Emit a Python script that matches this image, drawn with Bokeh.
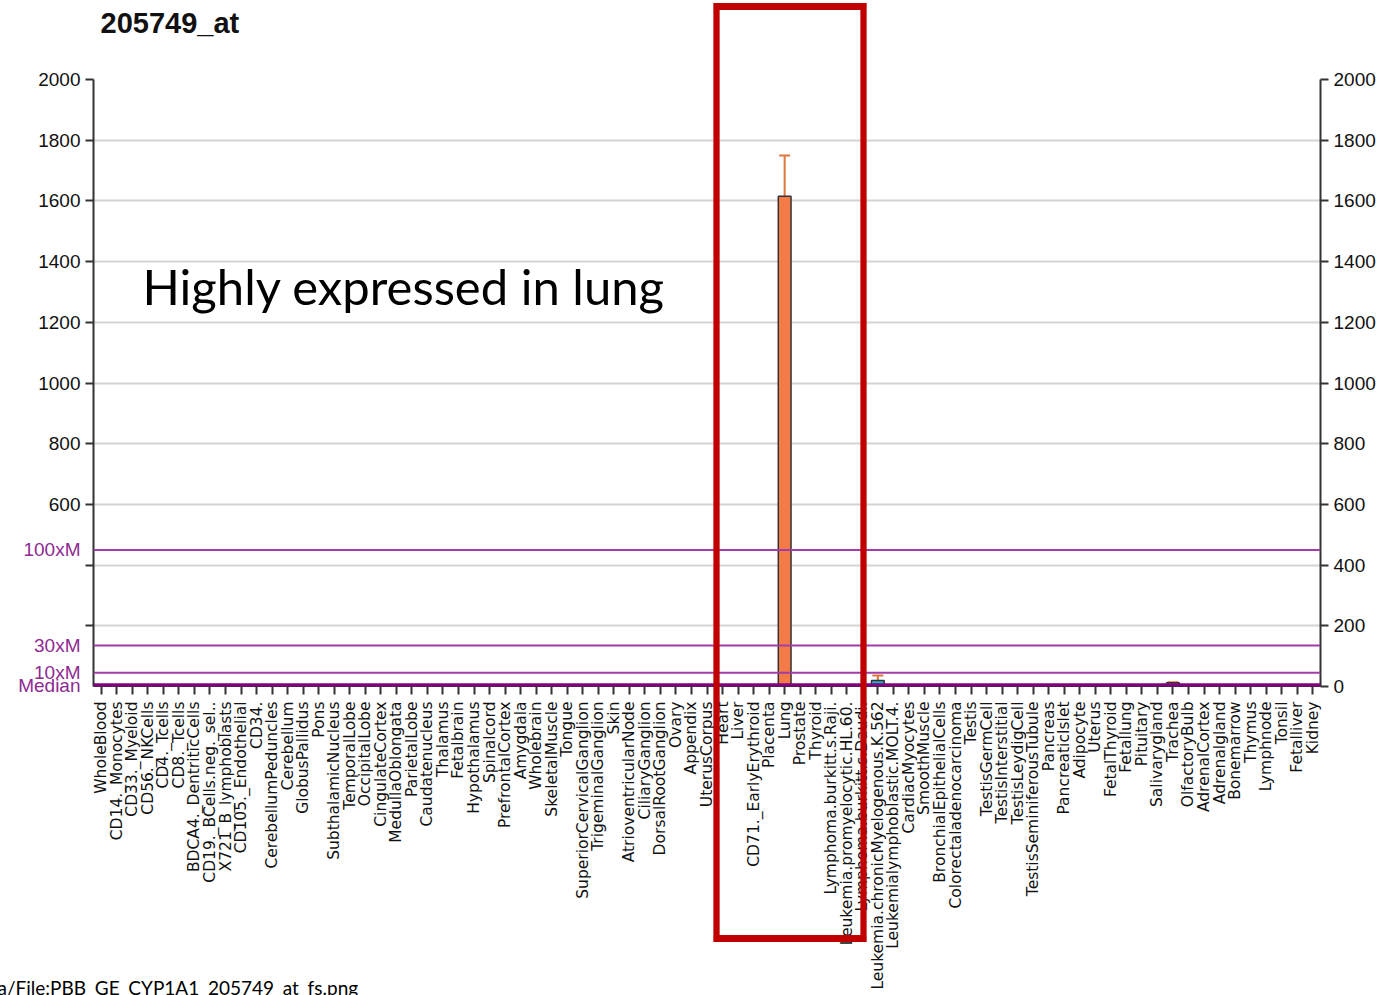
import math
from bokeh.plotting import figure
from bokeh.models import (ColumnDataSource, FactorRange, Range1d, LinearAxis, FixedTicker,
                          Span, Label, Whisker, TeeHead)
from bokeh.embed import file_html
from bokeh.resources import INLINE

# ---------------- data ----------------
tissues = [
    "WholeBlood", "CD14._Monocytes", "CD33._Myeloid", "CD56._NKCells", "CD4._Tcells",
    "CD8._Tcells", "BDCA4._DentriticCells", "CD19._BCells.neg._sel..", "X721_B_lymphoblasts",
    "CD105._Endothelial", "CD34.", "CerebellumPeduncles", "Cerebellum", "GlobusPallidus",
    "Pons", "SubthalamicNucleus", "TemporalLobe", "OccipitalLobe", "CingulateCortex",
    "MedullaOblongata", "ParietalLobe", "Caudatenucleus", "Thalamus", "Fetalbrain",
    "Hypothalamus", "Spinalcord", "PrefrontalCortex", "Amygdala", "Wholebrain",
    "SkeletalMuscle", "Tongue", "SuperiorCervicalGanglion", "TrigeminalGanglion", "Skin",
    "AtrioventricularNode", "CiliaryGanglion", "DorsalRootGanglion", "Ovary", "Appendix",
    "UterusCorpus", "Heart", "Liver", "CD71._EarlyErythroid", "Placenta", "Lung",
    "Prostate", "Thyroid", "Lymphoma.burkitt.s.Raji.", "Leukemia.promyelocytic.HL.60.",
    "Lymphoma.burkitt.s.Daudi.", "Leukemia.chronicMyelogenous.K.562",
    "Leukemialymphoblastic.MOLT.4.", "CardiacMyocytes", "SmoothMuscle",
    "BronchialEpithelialCells", "Colorectaladenocarcinoma", "Testis", "TestisGermCell",
    "TestisInterstitial", "TestisLeydigCell", "TestisSeminiferousTubule", "Pancreas",
    "PancreaticIslet", "Adipocyte", "Uterus", "FetalThyroid", "Fetallung", "Pituitary",
    "Salivarygland", "Trachea", "OlfactoryBulb", "AdrenalCortex", "Adrenalgland",
    "Bonemarrow", "Thymus", "Lymphnode", "Tonsil", "Fetalliver", "Kidney",
]

values = [
    4, 4, 4, 4, 4, 4, 4, 4, 5, 4,
    4, 4, 4, 4, 4, 4, 4, 4, 4, 4,
    4, 4, 4, 4, 4, 4, 4, 4, 4, 4,
    4, 4, 4, 4, 4, 4, 4, 4, 5, 4,
    4, 4, 4, 5, 1615, 4, 4, 4, 4, 4,
    20, 4, 4, 4, 5, 4, 4, 4, 4, 4,
    4, 4, 4, 4, 4, 4, 5, 4, 4, 12,
    4, 4, 4, 4, 4, 4, 4, 4, 4,
]

errors = [
    1, 1, 1, 1, 1, 1, 1, 1, 1, 1,
    1, 1, 1, 1, 1, 1, 1, 1, 1, 1,
    1, 1, 1, 1, 1, 1, 1, 1, 1, 1,
    1, 1, 1, 1, 1, 1, 1, 1, 1, 1,
    1, 1, 1, 1, 135, 1, 1, 1, 1, 1,
    16, 1, 1, 1, 1, 1, 1, 1, 1, 1,
    1, 1, 1, 1, 1, 1, 1, 1, 1, 2,
    1, 1, 1, 1, 1, 1, 1, 1, 1,
]

cell_lines = ["Leukemia.chronicMyelogenous.K.562"]

median_levels = [4.5, 45, 135, 450]
median_names = ["Median", "10xM", "30xM", "100xM"]

y_ticks = [0, 200, 400, 600, 800, 1000, 1200, 1400, 1600, 1800, 2000]

title_text = "205749_at"
note_text = "Highly expressed in lung"
source_text = "a/File:PBB_GE_CYP1A1_205749_at_fs.png"

# ---------------- build ----------------
W, H = 1383, 995
FRAME_L, FRAME_T, FRAME_W, FRAME_H = 93, 79, 1227, 607
PURPLE_TXT = "#8E2A92"
RED = "#C00000"

bar_colors = ["#1FB5C8" if t in cell_lines else "#F47A48" for t in tissues]
upper = [v + e for v, e in zip(values, errors)]

src = ColumnDataSource(dict(tissue=tissues, value=values, upper=upper, color=bar_colors))

p = figure(width=W, height=H,
           x_range=FactorRange(*tissues, range_padding=0),
           y_range=Range1d(0, 2000),
           output_backend="svg", toolbar_location=None,
           min_border_left=FRAME_L, min_border_right=W - FRAME_L - FRAME_W,
           min_border_top=FRAME_T, min_border_bottom=H - FRAME_T - FRAME_H)

p.outline_line_color = None
p.background_fill_color = "white"
p.border_fill_color = "white"
p.xgrid.grid_line_color = None
p.ygrid.grid_line_color = "#d4d4d4"
p.ygrid.grid_line_width = 2
p.ygrid.ticker = FixedTicker(ticks=y_ticks[1:])

p.vbar(x="tissue", top="value", bottom=0, width=0.82, fill_color="color",
       line_color="#333333", line_width=1.5, source=src)

wh = Whisker(base="tissue", upper="upper", lower="value", source=src,
             line_color="#E0783C", line_width=2,
             upper_head=TeeHead(size=11, line_color="#E0783C", line_width=2),
             lower_head=None)
p.add_layout(wh)

for lvl, name in zip(median_levels, median_names):
    is_med = name == "Median"
    p.add_layout(Span(location=lvl, dimension="width",
                      line_color="#800080" if is_med else "#A23CA8",
                      line_width=4 if is_med else 2))

# left numeric axis
ly = p.yaxis[0]
ly.ticker = FixedTicker(ticks=y_ticks[1:])
ly.major_label_overrides = {200: "", 400: ""}

ry = LinearAxis(ticker=FixedTicker(ticks=y_ticks))
p.add_layout(ry, "right")

for ax in [ly, ry]:
    ax.major_label_text_font = "Liberation Sans"
    ax.major_label_text_font_size = "19px"
    ax.major_label_text_color = "#111111"
    ax.axis_line_color = "#333333"
    ax.axis_line_width = 2
    ax.major_tick_line_color = "#333333"
    ax.major_tick_line_width = 2
    ax.major_tick_out = 8
    ax.major_tick_in = 0
    ax.minor_tick_line_color = None
    ax.minor_tick_out = 0
    ax.major_label_standoff = 5

# left purple axis for the median multiples (pulled back onto the numeric labels' column)
lm = LinearAxis(ticker=FixedTicker(ticks=median_levels),
                major_label_overrides=dict(zip(median_levels, median_names)))
lm.axis_line_color = None
lm.major_tick_line_color = None
lm.minor_tick_line_color = None
lm.major_tick_out = 0
lm.major_tick_in = 0
lm.minor_tick_out = 0
lm.major_label_standoff = -45
lm.major_label_text_font = "Liberation Sans"
lm.major_label_text_font_size = "19px"
lm.major_label_text_color = PURPLE_TXT
p.add_layout(lm, "left")

xa = p.xaxis[0]
xa.major_label_orientation = math.pi / 2
xa.major_label_text_font = "DejaVu Sans"
xa.major_label_text_font_size = "15.5px"
xa.major_label_text_color = "#111111"
xa.axis_line_color = "#333333"
xa.major_tick_line_color = "#333333"
xa.major_tick_line_width = 2
xa.major_tick_out = 8
xa.major_tick_in = 0
xa.major_label_standoff = 7

# free texts (canvas pixels); side-panel labels are not clipped to the frame
p.add_layout(Label(x=100, y=22, x_units="canvas", y_units="canvas", text=title_text,
                   text_font="Liberation Sans", text_font_style="bold",
                   text_font_size="29px", text_color="#111111",
                   text_baseline="alphabetic"), "above")
p.add_layout(Label(x=-3, y=987, x_units="canvas", y_units="canvas", text=source_text,
                   text_font="Lato", text_font_size="19px", text_color="#000000",
                   text_baseline="alphabetic"), "above")
p.add_layout(Label(x=142, y=285, x_units="canvas", y_units="canvas", text=note_text,
                   text_font="Lato", text_font_size="49px", text_color="#000000",
                   text_baseline="alphabetic"))

# red highlight frame, built from four thin filled bars drawn on top of everything
BOX_L, BOX_R, BOX_T, BOX_B, LW = 716, 863, 6, 938, 6
hw = (BOX_R - BOX_L + LW) // 2
hh = (BOX_B - BOX_T + LW) // 2
for yy in (BOX_T, BOX_B):
    p.add_layout(Label(x=(BOX_L + BOX_R) / 2, y=yy, x_units="canvas", y_units="canvas",
                       text=" ", text_align="center", text_baseline="middle",
                       text_font_size="1px", text_color=RED, level="overlay",
                       padding=(hw, hw, LW // 2, LW // 2),
                       background_fill_color=RED, background_fill_alpha=1.0), "above")
for xx in (BOX_L, BOX_R):
    p.add_layout(Label(x=xx, y=(BOX_T + BOX_B) / 2, x_units="canvas", y_units="canvas",
                       text=" ", text_align="center", text_baseline="middle",
                       text_font_size="1px", text_color=RED, level="overlay",
                       padding=(LW // 2, LW // 2, hh, hh),
                       background_fill_color=RED, background_fill_alpha=1.0), "left")

open("out.html", "w").write(file_html(p, INLINE))
